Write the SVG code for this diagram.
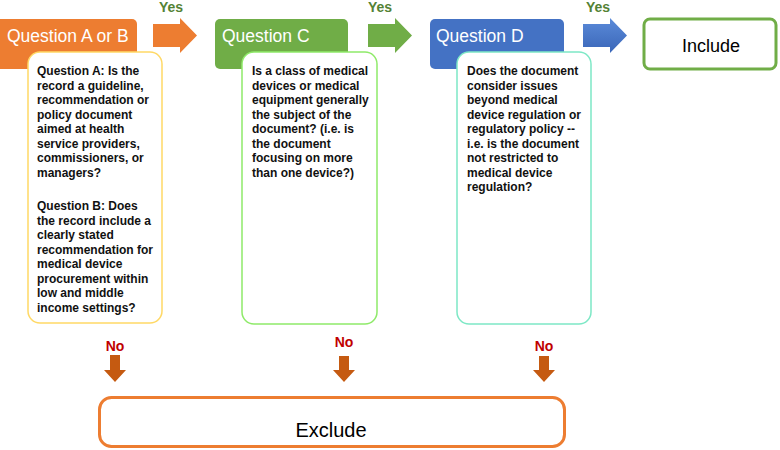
<svg xmlns="http://www.w3.org/2000/svg" width="780" height="450" viewBox="0 0 780 450">
<defs>
<linearGradient id="blueG" x1="0" y1="0" x2="0" y2="1">
<stop offset="0" stop-color="#5B8BD9"/>
<stop offset="1" stop-color="#3A66B8"/>
</linearGradient>
<style>
.hdr{font-family:"Liberation Sans",Arial,sans-serif;font-size:17.5px;fill:#fff}
.body{font-family:"Liberation Sans",Arial,sans-serif;font-size:12px;font-weight:bold;fill:#111}
.yes{font-family:"Liberation Sans",Arial,sans-serif;font-size:14px;font-weight:bold;fill:#548235;text-anchor:middle}
.no{font-family:"Liberation Sans",Arial,sans-serif;font-size:14px;font-weight:bold;fill:#C00000;text-anchor:middle}
.big{font-family:"Liberation Sans",Arial,sans-serif;fill:#000;text-anchor:middle}
.box{fill:#fff;stroke-width:1.5}
.noarrow{fill:#C55A11}
</style>
</defs>
<rect width="780" height="450" fill="#fff"/>

<g id="qab">
<rect x="-4" y="19" width="141" height="50" rx="5" fill="#ED7D31"/>
<text class="hdr" x="7" y="42">Question A or B</text>
<rect class="box" x="28" y="52" width="134" height="271" rx="12" stroke="#FFD966"/>
<text class="body" x="37" y="75">
<tspan x="37" dy="0">Question A: Is the</tspan>
<tspan x="37" dy="14.5">record a guideline,</tspan>
<tspan x="37" dy="14.5">recommendation or</tspan>
<tspan x="37" dy="14.5">policy document</tspan>
<tspan x="37" dy="14.5">aimed at health</tspan>
<tspan x="37" dy="14.5">service providers,</tspan>
<tspan x="37" dy="14.5">commissioners, or</tspan>
<tspan x="37" dy="14.5">managers?</tspan>
</text>
<text class="body" x="37" y="210">
<tspan x="37" dy="0">Question B: Does</tspan>
<tspan x="37" dy="14.5">the record include a</tspan>
<tspan x="37" dy="14.5">clearly stated</tspan>
<tspan x="37" dy="14.5">recommendation for</tspan>
<tspan x="37" dy="14.5">medical device</tspan>
<tspan x="37" dy="14.5">procurement within</tspan>
<tspan x="37" dy="14.5">low and middle</tspan>
<tspan x="37" dy="14.5">income settings?</tspan>
</text>
</g>

<g id="qc">
<rect x="215" y="19" width="133" height="50" rx="5" fill="#70AD47"/>
<text class="hdr" x="222" y="42">Question C</text>
<rect class="box" x="242" y="52" width="135" height="272" rx="12" stroke="#8FEA6A"/>
<text class="body" x="252" y="75">
<tspan x="252" dy="0">Is a class of medical</tspan>
<tspan x="252" dy="14.5">devices or medical</tspan>
<tspan x="252" dy="14.5">equipment generally</tspan>
<tspan x="252" dy="14.5">the subject of the</tspan>
<tspan x="252" dy="14.5">document? (i.e. is</tspan>
<tspan x="252" dy="14.5">the document</tspan>
<tspan x="252" dy="14.5">focusing on more</tspan>
<tspan x="252" dy="14.5">than one device?)</tspan>
</text>
</g>

<g id="qd">
<rect x="430" y="19" width="134" height="50" rx="5" fill="#4472C4"/>
<text class="hdr" x="436" y="42">Question D</text>
<rect class="box" x="457" y="52" width="134" height="272" rx="12" stroke="#7EE8C6"/>
<text class="body" x="467" y="75">
<tspan x="467" dy="0">Does the document</tspan>
<tspan x="467" dy="14.5">consider issues</tspan>
<tspan x="467" dy="14.5">beyond medical</tspan>
<tspan x="467" dy="14.5">device regulation or</tspan>
<tspan x="467" dy="14.5">regulatory policy --</tspan>
<tspan x="467" dy="14.5">i.e. is the document</tspan>
<tspan x="467" dy="14.5">not restricted to</tspan>
<tspan x="467" dy="14.5">medical device</tspan>
<tspan x="467" dy="14.5">regulation?</tspan>
</text>
</g>

<g id="include">
<rect x="644" y="19" width="132" height="50" rx="6" fill="#fff" stroke="#70AD47" stroke-width="3"/>
<text class="big" x="711" y="52" font-size="18">Include</text>
</g>

<g id="exclude">
<rect x="99.5" y="397.5" width="465" height="49" rx="12" fill="#fff" stroke="#ED7D31" stroke-width="3"/>
<text class="big" x="331" y="437" font-size="20">Exclude</text>
</g>

<g id="connectors">
<polygon points="153,24 180,24 180,18 197,35.5 180,53 180,47 153,47" fill="#ED7D31"/>
<text class="yes" x="171" y="12">Yes</text>
<polygon points="368,24 395,24 395,18 412,35.5 395,53 395,47 368,47" fill="#70AD47"/>
<text class="yes" x="380" y="12">Yes</text>
<polygon points="583,24 610,24 610,18 627,35.5 610,53 610,47 583,47" fill="url(#blueG)"/>
<text class="yes" x="598" y="12">Yes</text>

<text class="no" x="115" y="351">No</text>
<polygon class="noarrow" points="110,355 120,355 120,370 126,370 115,382 104,370 110,370"/>
<text class="no" x="344" y="347">No</text>
<polygon class="noarrow" points="339,356 349,356 349,370 355,370 344,382 333,370 339,370"/>
<text class="no" x="544" y="351">No</text>
<polygon class="noarrow" points="539,356 549,356 549,370 555,370 544,382 533,370 539,370"/>
</g>
</svg>
